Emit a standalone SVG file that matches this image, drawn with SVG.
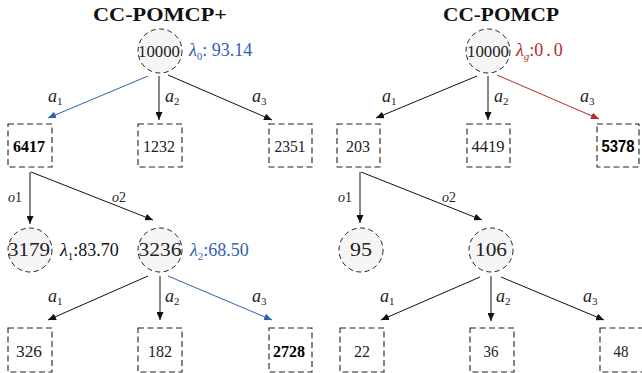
<svg xmlns="http://www.w3.org/2000/svg" width="642" height="373" viewBox="0 0 642 373">
<style>
.bg{fill:#ffffff}
.title{font-family:"Liberation Serif","DejaVu Serif",serif;font-weight:bold;font-size:18px;fill:#111;text-anchor:middle}
.num{font-family:"Liberation Serif","DejaVu Serif",serif;font-size:16px;fill:#222;text-anchor:middle}
.cnum{font-family:"Liberation Serif","DejaVu Serif",serif;font-size:19px;fill:#222;text-anchor:middle}
.bold{font-weight:bold;fill:#000}
.sans{font-family:"Liberation Sans",sans-serif}
.circ{fill:#f5f5f5;stroke:#222;stroke-width:1;stroke-dasharray:5 3.5}
.box{fill:#fff;stroke:#222;stroke-width:1.1;stroke-dasharray:6 3.5}
.edge{fill:none;stroke:#111;stroke-width:1}
.blue{stroke:#2d63b3}
.red{stroke:#b52a2a}
.lab{font-family:"Liberation Serif","DejaVu Serif",serif;font-style:italic;font-size:18px;fill:#222}
.sub{font-style:normal;font-size:11px}
.olab{font-family:"Liberation Serif","DejaVu Serif",serif;font-style:italic;font-size:14px;fill:#222}
.lam{font-family:"Liberation Serif","DejaVu Serif",serif;font-size:18px}
</style>
<defs>
<marker id="ah" markerUnits="userSpaceOnUse" markerWidth="8" markerHeight="7" refX="8" refY="3.5" orient="auto"><path d="M0,0 L8,3.5 L0,7 z" fill="#111"/></marker>
<marker id="ahb" markerUnits="userSpaceOnUse" markerWidth="8" markerHeight="7" refX="8" refY="3.5" orient="auto"><path d="M0,0 L8,3.5 L0,7 z" fill="#2d63b3"/></marker>
<marker id="ahr" markerUnits="userSpaceOnUse" markerWidth="8" markerHeight="7" refX="8" refY="3.5" orient="auto"><path d="M0,0 L8,3.5 L0,7 z" fill="#b52a2a"/></marker>
</defs>
<rect class="bg" x="0" y="0" width="642" height="373"/>

<text class="title" x="160" y="21" textLength="134" lengthAdjust="spacingAndGlyphs">CC-POMCP+</text>
<text class="title" x="501" y="21" textLength="116" lengthAdjust="spacingAndGlyphs">CC-POMCP</text>

<g id="connectors">
  <line class="edge blue" x1="148" y1="76" x2="48" y2="118" marker-end="url(#ahb)"/>
  <line class="edge" x1="159" y1="76" x2="159" y2="120" marker-end="url(#ah)"/>
  <line class="edge" x1="168" y1="75" x2="272" y2="120" marker-end="url(#ah)"/>
  <line class="edge" x1="30" y1="172" x2="30" y2="224" marker-end="url(#ah)"/>
  <line class="edge" x1="31" y1="172" x2="153" y2="220" marker-end="url(#ah)"/>
  <line class="edge" x1="148" y1="276" x2="48" y2="320" marker-end="url(#ah)"/>
  <line class="edge" x1="160" y1="276" x2="160" y2="320" marker-end="url(#ah)"/>
  <line class="edge blue" x1="168" y1="276" x2="272" y2="320" marker-end="url(#ahb)"/>

  <line class="edge" x1="477" y1="76" x2="376" y2="118" marker-end="url(#ah)"/>
  <line class="edge" x1="488" y1="76" x2="488" y2="120" marker-end="url(#ah)"/>
  <line class="edge red" x1="497" y1="75" x2="599" y2="119" marker-end="url(#ahr)"/>
  <line class="edge" x1="360" y1="172" x2="360" y2="223" marker-end="url(#ah)"/>
  <line class="edge" x1="361" y1="172" x2="482" y2="220" marker-end="url(#ah)"/>
  <line class="edge" x1="480" y1="277" x2="381" y2="320" marker-end="url(#ah)"/>
  <line class="edge" x1="491" y1="276" x2="491" y2="321" marker-end="url(#ah)"/>
  <line class="edge" x1="501" y1="277" x2="604" y2="320" marker-end="url(#ah)"/>
</g>

<g id="edge-labels">
  <text class="lab" x="48" y="102">a<tspan class="sub" dy="3">1</tspan></text>
  <text class="lab" x="165" y="102">a<tspan class="sub" dy="3">2</tspan></text>
  <text class="lab" x="252" y="102">a<tspan class="sub" dy="3">3</tspan></text>
  <text class="olab" x="8" y="202">o<tspan font-style="normal">1</tspan></text>
  <text class="olab" x="112" y="202">o<tspan font-style="normal">2</tspan></text>
  <text class="lab" x="48" y="302">a<tspan class="sub" dy="3">1</tspan></text>
  <text class="lab" x="165" y="302">a<tspan class="sub" dy="3">2</tspan></text>
  <text class="lab" x="252" y="302">a<tspan class="sub" dy="3">3</tspan></text>

  <text class="lab" x="382" y="102">a<tspan class="sub" dy="3">1</tspan></text>
  <text class="lab" x="494" y="102">a<tspan class="sub" dy="3">2</tspan></text>
  <text class="lab" x="580" y="102">a<tspan class="sub" dy="3">3</tspan></text>
  <text class="olab" x="338" y="202">o<tspan font-style="normal">1</tspan></text>
  <text class="olab" x="442" y="202">o<tspan font-style="normal">2</tspan></text>
  <text class="lab" x="380" y="302">a<tspan class="sub" dy="3">1</tspan></text>
  <text class="lab" x="496" y="302">a<tspan class="sub" dy="3">2</tspan></text>
  <text class="lab" x="583" y="302">a<tspan class="sub" dy="3">3</tspan></text>
</g>

<g id="L-root">
  <circle class="circ" cx="160" cy="51" r="22"/>
  <text class="num" x="159" y="57" textLength="42" lengthAdjust="spacingAndGlyphs">10000</text>
  <text class="lam" x="189" y="56" fill="#2d63b3"><tspan font-style="italic">λ</tspan><tspan font-size="11" dy="4">0</tspan><tspan dy="-4">: 93.14</tspan></text>
</g>
<g id="L-a1"><rect class="box" x="8" y="124" width="44" height="43"/><text class="num bold" x="29" y="152" textLength="32" lengthAdjust="spacingAndGlyphs">6417</text></g>
<g id="L-a2"><rect class="box" x="138" y="124" width="44" height="43"/><text class="num" x="159" y="152" textLength="32" lengthAdjust="spacingAndGlyphs">1232</text></g>
<g id="L-a3"><rect class="box" x="269" y="124" width="43" height="43"/><text class="num" x="290" y="152" textLength="31" lengthAdjust="spacingAndGlyphs">2351</text></g>
<g id="L-o1">
  <circle class="circ" cx="30" cy="250" r="22"/>
  <text class="cnum" x="29" y="256" textLength="42" lengthAdjust="spacingAndGlyphs">3179</text>
  <text class="lam" x="60" y="256" fill="#111"><tspan font-style="italic">λ</tspan><tspan font-size="11" dy="4">1</tspan><tspan dy="-4">:83.70</tspan></text>
</g>
<g id="L-o2">
  <circle class="circ" cx="160" cy="250" r="22"/>
  <text class="cnum" x="160" y="256" textLength="43" lengthAdjust="spacingAndGlyphs">3236</text>
  <text class="lam" x="190" y="256" fill="#2d63b3"><tspan font-style="italic">λ</tspan><tspan font-size="11" dy="4">2</tspan><tspan dy="-4">:68.50</tspan></text>
</g>
<g id="L-o2a1"><rect class="box" x="8" y="328" width="44" height="44"/><text class="num" x="29" y="357" textLength="26" lengthAdjust="spacingAndGlyphs">326</text></g>
<g id="L-o2a2"><rect class="box" x="138" y="328" width="44" height="44"/><text class="num" x="160" y="357" textLength="24" lengthAdjust="spacingAndGlyphs">182</text></g>
<g id="L-o2a3"><rect class="box" x="269" y="328" width="43" height="44"/><text class="num bold" x="289" y="357" textLength="32" lengthAdjust="spacingAndGlyphs">2728</text></g>

<g id="R-root">
  <circle class="circ" cx="488" cy="51" r="22"/>
  <text class="num" x="488" y="57" textLength="42" lengthAdjust="spacingAndGlyphs">10000</text>
  <text class="lam" x="516" y="56" fill="#b52a2a"><tspan font-style="italic">λ</tspan><tspan font-size="11" font-style="italic" dy="4">g</tspan><tspan dy="-4">:0</tspan><tspan dx="3">.</tspan><tspan dx="3">0</tspan></text>
</g>
<g id="R-a1"><rect class="box" x="337" y="124" width="43" height="43"/><text class="num" x="358" y="152" textLength="24" lengthAdjust="spacingAndGlyphs">203</text></g>
<g id="R-a2"><rect class="box" x="467" y="124" width="43" height="43"/><text class="num" x="488" y="152" textLength="33" lengthAdjust="spacingAndGlyphs">4419</text></g>
<g id="R-a3"><rect class="box" x="597" y="124" width="42" height="43"/><text class="num bold sans" x="618" y="152" textLength="33" lengthAdjust="spacingAndGlyphs">5378</text></g>
<g id="R-o1"><circle class="circ" cx="361" cy="250" r="22"/><text class="cnum" x="361" y="256" textLength="22" lengthAdjust="spacingAndGlyphs">95</text></g>
<g id="R-o2"><circle class="circ" cx="491" cy="250" r="22"/><text class="cnum" x="491" y="256" textLength="32" lengthAdjust="spacingAndGlyphs">106</text></g>
<g id="R-o2a1"><rect class="box" x="340" y="328" width="44" height="44"/><text class="num" x="362" y="357" textLength="16" lengthAdjust="spacingAndGlyphs">22</text></g>
<g id="R-o2a2"><rect class="box" x="470" y="328" width="44" height="44"/><text class="num" x="491" y="357" textLength="15" lengthAdjust="spacingAndGlyphs">36</text></g>
<g id="R-o2a3"><rect class="box" x="600" y="328" width="44" height="44"/><text class="num" x="621" y="357" textLength="15" lengthAdjust="spacingAndGlyphs">48</text></g>
</svg>
